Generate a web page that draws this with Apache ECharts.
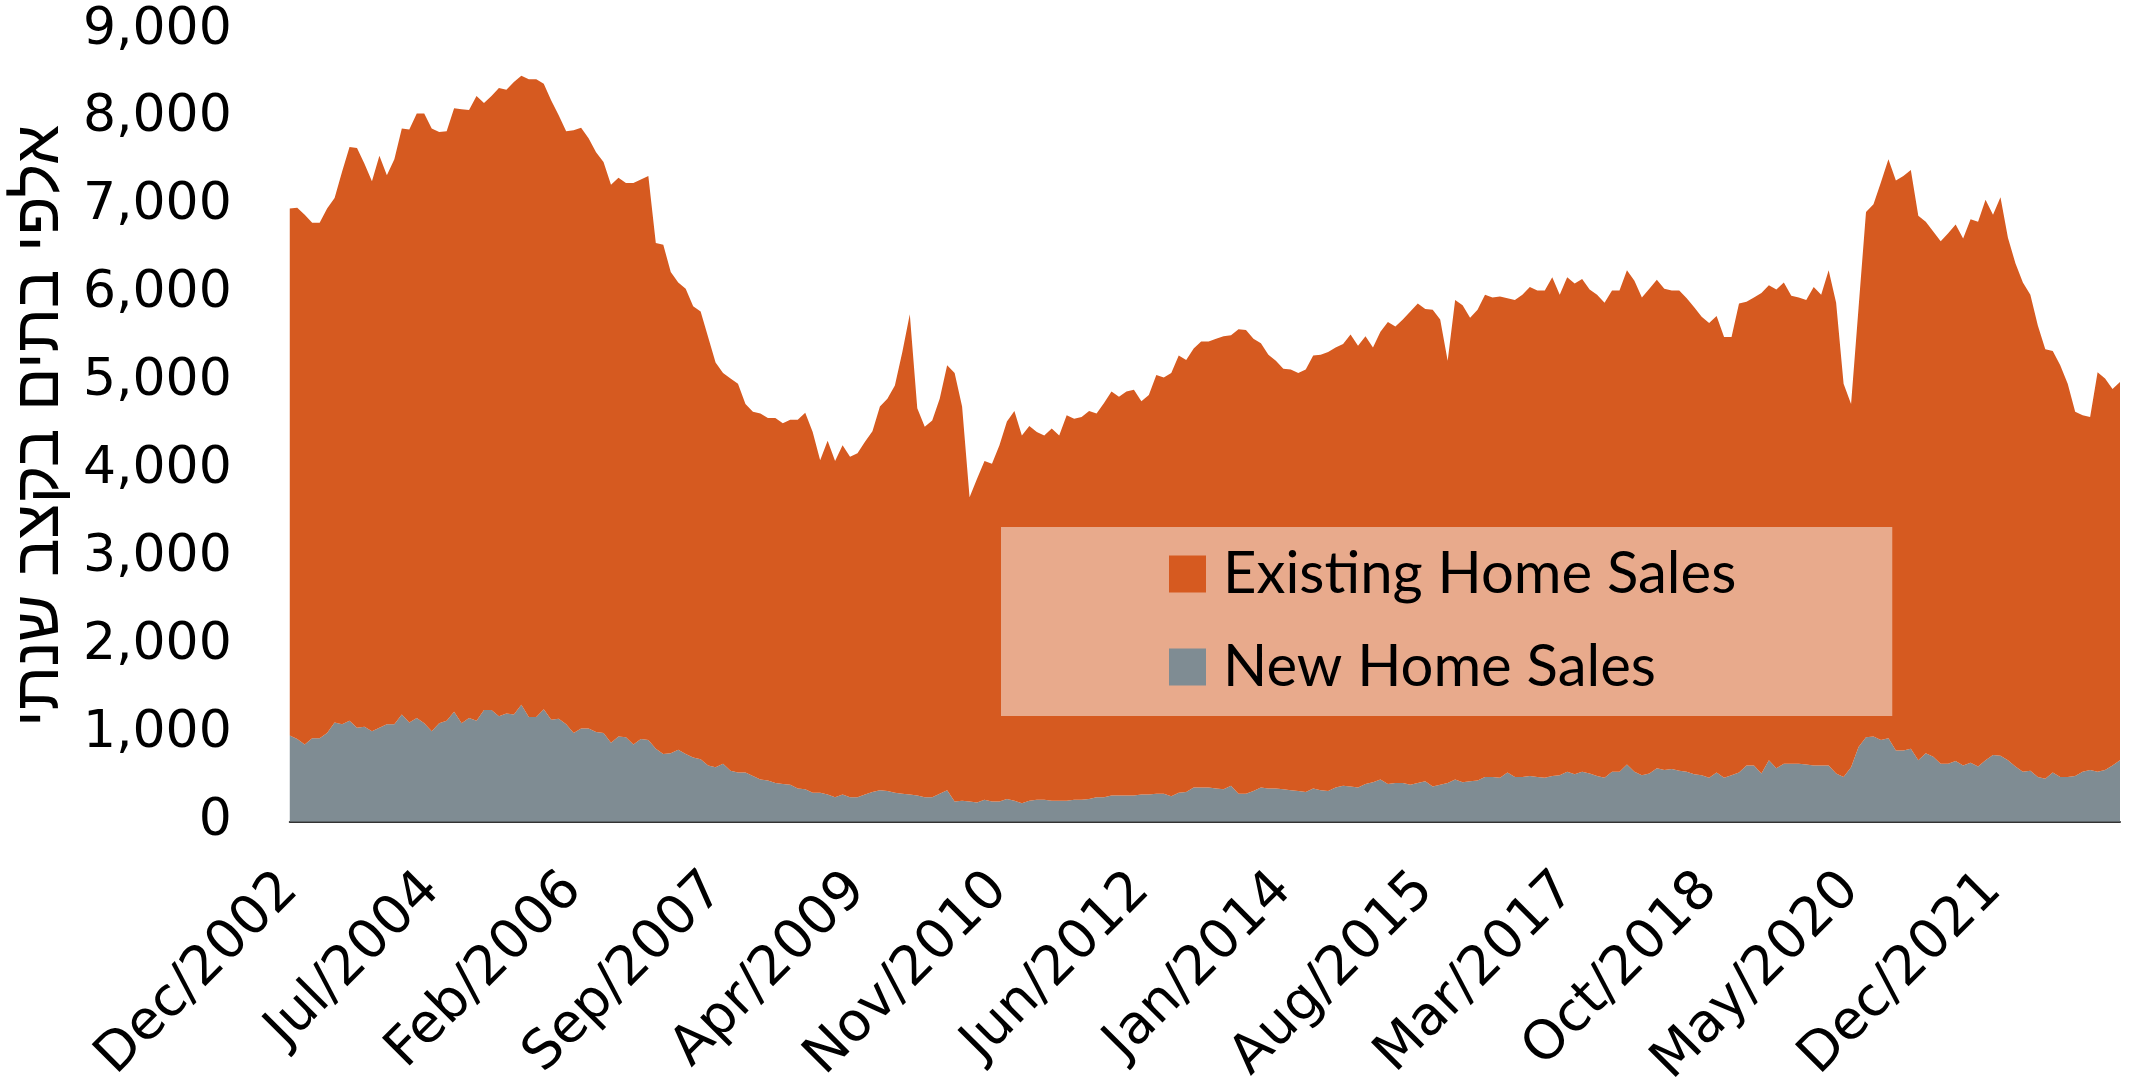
<!DOCTYPE html>
<html>
<head>
<meta charset="utf-8">
<script src="https://cdn.jsdelivr.net/npm/echarts@6/dist/echarts.min.js"></script>
<style>
  html, body { margin: 0; padding: 0; background: #fff; }
  #chart { width: 2129px; height: 1092px; }
</style>
</head>
<body>
<div id="chart"></div>
<script>
// monthly, Dec 2002 .. May 2023 (246 points), thousands of homes, annual rate
const startYear = 2002;
const startMonth = 11; // Dec
const pointCount = 246;

const monthNames = ['Jan', 'Feb', 'Mar', 'Apr', 'May', 'Jun', 'Jul', 'Aug', 'Sep', 'Oct', 'Nov', 'Dec'];

const newHomeSales = [
  980, 940, 880, 950, 950, 1010, 1130, 1110, 1150, 1070, 1080, 1030, 1070, 1110, 1110, 1220, 1130, 1180, 1120, 1030,
  1120, 1150, 1250, 1120, 1180, 1150, 1270, 1270, 1200, 1230, 1220, 1330, 1190, 1190, 1280, 1160, 1170, 1110, 1010, 1060,
  1060, 1020, 1010, 900, 970, 960, 880, 940, 930, 830, 770, 780, 820, 770, 730, 710, 640, 620, 660, 580,
  560, 560, 520, 480, 470, 440, 430, 420, 380, 370, 330, 330, 310, 280, 310, 280, 280, 310, 340, 360,
  350, 330, 320, 310, 300, 280, 280, 320, 360, 230, 240, 230, 220, 250, 230, 230, 260, 240, 210, 240,
  250, 250, 240, 240, 240, 250, 250, 260, 280, 280, 300, 300, 300, 300, 310, 310, 320, 320, 290, 330,
  340, 390, 390, 390, 380, 370, 410, 320, 320, 350, 390, 380, 380, 370, 360, 350, 340, 380, 360, 350,
  390, 410, 400, 390, 430, 450, 480, 430, 440, 440, 420, 440, 460, 400, 420, 440, 480, 450, 460, 470,
  510, 510, 500, 560, 510, 510, 520, 510, 500, 520, 530, 570, 540, 570, 550, 520, 500, 570, 570, 650,
  570, 530, 550, 610, 590, 600, 580, 570, 540, 530, 500, 560, 500, 530, 560, 640, 640, 550, 700, 610,
  660, 660, 660, 650, 640, 640, 640, 550, 510, 620, 850, 960, 970, 930, 950, 810, 810, 830, 700, 780,
  740, 660, 660, 690, 640, 670, 630, 700, 760, 750, 700, 630, 570, 580, 510, 490, 560, 510, 510, 520,
  570, 590, 570, 590, 640, 700
];

const existingHomeSales = [
  5990, 6040, 6020, 5860, 5860, 5960, 5960, 6280, 6520, 6590, 6400, 6250, 6500, 6240, 6420, 6660, 6740, 6870, 6930, 6850,
  6720, 6700, 6860, 6980, 6910, 7100, 6900, 6980, 7140, 7090, 7190, 7150, 7250, 7250, 7110, 7040, 6860, 6740, 6850, 6830,
  6710, 6590, 6490, 6340, 6350, 6300, 6380, 6360, 6410, 5750, 5790, 5470, 5310, 5290, 5130, 5090, 4870, 4600, 4440, 4460,
  4420, 4190, 4140, 4160, 4120, 4150, 4100, 4150, 4190, 4280, 4100, 3780, 4020, 3820, 3970, 3870, 3910, 4010, 4100, 4360,
  4460, 4630, 5020, 5460, 4400, 4210, 4280, 4490, 4830, 4870, 4480, 3460, 3680, 3850, 3840, 4050, 4290, 4430, 4180, 4260,
  4180, 4140, 4230, 4150, 4380, 4330, 4350, 4410, 4360, 4480, 4590, 4530, 4590, 4610, 4470, 4540, 4760, 4730, 4810, 4970,
  4910, 4990, 5070, 5070, 5110, 5150, 5120, 5280, 5270, 5140, 5050, 4930, 4860, 4780, 4780, 4750, 4800, 4920, 4950, 4990,
  5000, 5020, 5140, 5020, 5090, 4940, 5090, 5250, 5190, 5270, 5380, 5450, 5370, 5420, 5290, 4800, 5450, 5420, 5270, 5350,
  5480, 5450, 5470, 5390, 5420, 5480, 5560, 5530, 5540, 5670, 5460, 5620, 5580, 5600, 5500, 5470, 5400, 5470, 5470, 5620,
  5580, 5430, 5510, 5550, 5470, 5440, 5460, 5380, 5310, 5210, 5170, 5190, 5010, 4980, 5330, 5270, 5320, 5460, 5400, 5440,
  5470, 5320, 5300, 5280, 5440, 5350, 5630, 5350, 4470, 4130, 4990, 5970, 6050, 6340, 6580, 6480, 6530, 6580, 6190, 6040,
  5970, 5940, 6030, 6100, 5990, 6180, 6190, 6370, 6140, 6350, 5940, 5720, 5560, 5410, 5130, 4880, 4790, 4680, 4470, 4140,
  4050, 4010, 4540, 4450, 4280, 4300
];

const yTicks = [0, 1000, 2000, 3000, 4000, 5000, 6000, 7000, 8000, 9000];

const months = [];
for (let i = 0; i < pointCount; i++) {
  const m = (startMonth + i) % 12;
  const y = startYear + Math.floor((startMonth + i) / 12);
  months.push(monthNames[m] + '/' + y);
}

const orange = '#D65A20';
const grey = '#7F8C93';

const chart = echarts.init(document.getElementById('chart'));

chart.setOption({
  animation: false,
  backgroundColor: '#fff',
  grid: { left: 289, right: 9, top: 30, bottom: 270 },
  legend: {
    orient: 'vertical',
    left: 1001,
    top: 527,
    data: ['Existing Home Sales', 'New Home Sales'],
    backgroundColor: '#E8AA8C',
    padding: [17, 156, 19, 168],
    itemWidth: 37,
    itemHeight: 37,
    itemGap: 33,
    icon: 'rect',
    textStyle: { fontFamily: 'Lato', fontSize: 58, color: '#000', lineHeight: 60, padding: [0, 0, 0, 12] }
  },
  xAxis: {
    type: 'category',
    boundaryGap: false,
    data: months,
    axisLine: { lineStyle: { color: '#333', width: 2 } },
    axisTick: { show: false },
    axisLabel: {
      interval: 18,
      rotate: 45,
      margin: 60,
      fontFamily: 'DejaVu Sans',
      fontSize: 54,
      color: '#000'
    }
  },
  yAxis: {
    type: 'value',
    min: yTicks[0],
    max: yTicks[yTicks.length - 1],
    interval: 1000,
    name: 'אלפי בתים בקצב שנתי',
    nameLocation: 'middle',
    nameRotate: 90,
    nameGap: 198,
    nameTextStyle: { fontFamily: 'Liberation Sans', fontSize: 64, color: '#000' },
    axisLine: { show: false },
    axisTick: { show: false },
    splitLine: { show: false },
    axisLabel: {
      margin: 58,
      fontFamily: 'DejaVu Sans',
      fontSize: 52,
      color: '#000',
      formatter: v => v.toLocaleString('en-US')
    }
  },
  series: [
    {
      name: 'New Home Sales',
      type: 'line',
      stack: 'sales',
      data: newHomeSales,
      showSymbol: false,
      lineStyle: { width: 0 },
      areaStyle: { color: grey, opacity: 1 },
      itemStyle: { color: grey }
    },
    {
      name: 'Existing Home Sales',
      type: 'line',
      stack: 'sales',
      data: existingHomeSales,
      showSymbol: false,
      lineStyle: { width: 0 },
      areaStyle: { color: orange, opacity: 1 },
      itemStyle: { color: orange }
    }
  ]
});
</script>
</body>
</html>
